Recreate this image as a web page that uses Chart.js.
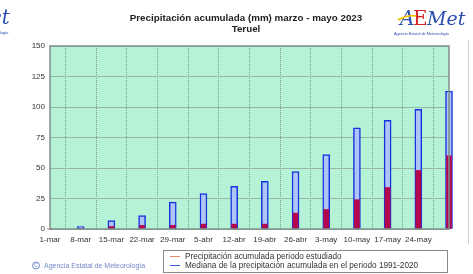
<!DOCTYPE html>
<html>
<head>
<meta charset="utf-8">
<script src="https://cdn.jsdelivr.net/npm/chart.js@4.4.0/dist/chart.umd.min.js"></script>
<style>
  html, body { margin: 0; padding: 0; background: #fff; }
  #wrap { width: 473px; height: 274px; }
</style>
</head>
<body>
<div id="wrap"><canvas id="precipChart" width="473" height="274"></canvas></div>
<script>
// weekly dates (last one, 31-may, has no printed label)
const categories = ['1-mar', '8-mar', '15-mar', '22-mar', '29-mar', '5-abr', '12-abr', '19-abr', '26-abr', '3-may', '10-may', '17-may', '24-may', ''];
// accumulated precipitation in the studied period (mm)
const acumulada = [0, 0.5, 2, 3, 3, 4, 4, 4, 13, 16, 24, 34, 48, 60];
// median accumulated precipitation 1991-2020 (mm)
const mediana = [0, 2, 7, 11, 22, 29, 35, 39, 47, 61, 83, 89, 98, 113];
const yTicks = [0, 25, 50, 75, 100, 125, 150];

const titleLines = ['Precipitación acumulada (mm) marzo - mayo 2023', 'Teruel'];
const legendLabels = ['Precipitación acumulada periodo estudiado', 'Mediana de la precipitación acumulada en el periodo 1991-2020'];

const decorPlugin = {
    id: 'decor',
    beforeDraw(chart) {
        const c = chart.ctx;
        const a = chart.chartArea;
        c.save();
        c.fillStyle = '#b6f3d6';
        c.fillRect(a.left, a.top, a.right - a.left, a.bottom - a.top);
        c.restore();
    },
    afterDraw(chart) {
        const c = chart.ctx;
        const a = chart.chartArea;
        c.save();
        // plot frame
        c.strokeStyle = '#7f8f88';
        c.lineWidth = 1.5;
        c.strokeRect(a.left, a.top, a.right - a.left, a.bottom - a.top);

        // title
        c.fillStyle = '#222';
        c.font = 'bold 9.8px Arial, "Liberation Sans", sans-serif';
        c.textAlign = 'center';
        c.textBaseline = 'middle';
        c.fillText(titleLines[0], 246, 18);
        c.fillText(titleLines[1], 246, 29);

        // logo top right
        c.textAlign = 'left';
        c.textBaseline = 'alphabetic';
        c.font = 'italic 20px "DejaVu Serif", serif';
        c.fillStyle = '#2a4fb0';
        c.fillText('A', 400, 25);
        c.strokeStyle = '#f2c200';
        c.lineWidth = 1.8;
        c.beginPath();
        c.moveTo(398, 20); c.quadraticCurveTo(410, 13, 420, 17);
        c.stroke();
        c.fillStyle = '#d8252a';
        c.font = '20px "DejaVu Serif", serif';
        c.fillText('E', 413, 25);
        c.fillStyle = '#2a4fb0';
        c.font = 'italic 19px "DejaVu Serif", serif';
        c.fillText('Met', 427, 25);
        c.font = '3.8px Arial, sans-serif';
        c.fillText('Agencia Estatal de Meteorología', 394, 35);

        // cut logo on the left edge
        c.font = 'italic 20px "DejaVu Serif", serif';
        c.fillText('et', -10, 24);
        c.font = '3.8px Arial, sans-serif';
        c.fillText('ología', -2, 34);

        // thin line right
        c.strokeStyle = '#cfcfcf';
        c.lineWidth = 1;
        c.beginPath();
        c.moveTo(468.5, 40); c.lineTo(468.5, 244);
        c.stroke();

        // legend box
        c.strokeStyle = '#8a8a8a';
        c.lineWidth = 1;
        c.strokeRect(163.5, 250.5, 284, 22);
        c.font = '8.2px Arial, "Liberation Sans", sans-serif';
        c.textBaseline = 'middle';
        const cols = ['#f08a6a', '#3f52e0'];
        for (let i = 0; i < 2; i++) {
            const y = 256.5 + i * 9;
            c.strokeStyle = cols[i];
            c.beginPath();
            c.moveTo(170, y); c.lineTo(180, y);
            c.stroke();
            c.fillStyle = '#333';
            c.fillText(legendLabels[i], 185, y);
        }

        // footer
        c.fillStyle = '#7288c8';
        c.strokeStyle = '#7288c8';
        c.beginPath();
        c.arc(36, 265.5, 3.5, 0, Math.PI * 2);
        c.stroke();
        c.font = '5px Arial, sans-serif';
        c.textAlign = 'center';
        c.fillText('C', 36, 265.8);
        c.textAlign = 'left';
        c.font = '7px Arial, "Liberation Sans", sans-serif';
        c.fillText('Agencia Estatal de Meteorología', 44, 266);
        c.restore();
    }
};

new Chart(document.getElementById('precipChart').getContext('2d'), {
    type: 'bar',
    data: {
        labels: categories,
        datasets: [{
            label: legendLabels[0],
            data: acumulada,
            backgroundColor: '#b3064c',
            borderWidth: 0,
            barThickness: 5,
            clip: false,
            order: 0
        }, {
            label: legendLabels[1],
            data: mediana,
            backgroundColor: '#b0c5f7',
            borderColor: '#1433e0',
            borderWidth: 1.5,
            borderSkipped: false,
            barThickness: 7,
            clip: false,
            order: 1
        }]
    },
    options: {
        responsive: false,
        animation: false,
        layout: { padding: { top: 46, right: 24, bottom: 0, left: 0 } },
        plugins: {
            legend: { display: false },
            title: { display: false },
            tooltip: { enabled: false }
        },
        scales: {
            x: {
                stacked: true,
                offset: false,
                grid: {
                    display: true,
                    color: '#7f9c8c',
                    lineWidth: 1,
                    drawTicks: false
                },
                border: { display: false, dash: [1, 1] },
                ticks: {
                    color: '#333',
                    font: { family: 'Arial, "Liberation Sans", sans-serif', size: 8 },
                    maxRotation: 0,
                    autoSkip: false,
                    padding: 6
                },
                afterFit(scale) { scale.height = 45; }
            },
            y: {
                min: 0,
                max: 150,
                afterBuildTicks(scale) { scale.ticks = yTicks.map(v => ({ value: v })); },
                grid: { color: '#95b8a6', lineWidth: 1, drawTicks: false },
                border: { display: false },
                ticks: {
                    color: '#333',
                    font: { family: 'Arial, "Liberation Sans", sans-serif', size: 8 },
                    padding: 5
                },
                afterFit(scale) { scale.width = 50; }
            }
        }
    },
    plugins: [decorPlugin]
});
</script>
</body>
</html>
